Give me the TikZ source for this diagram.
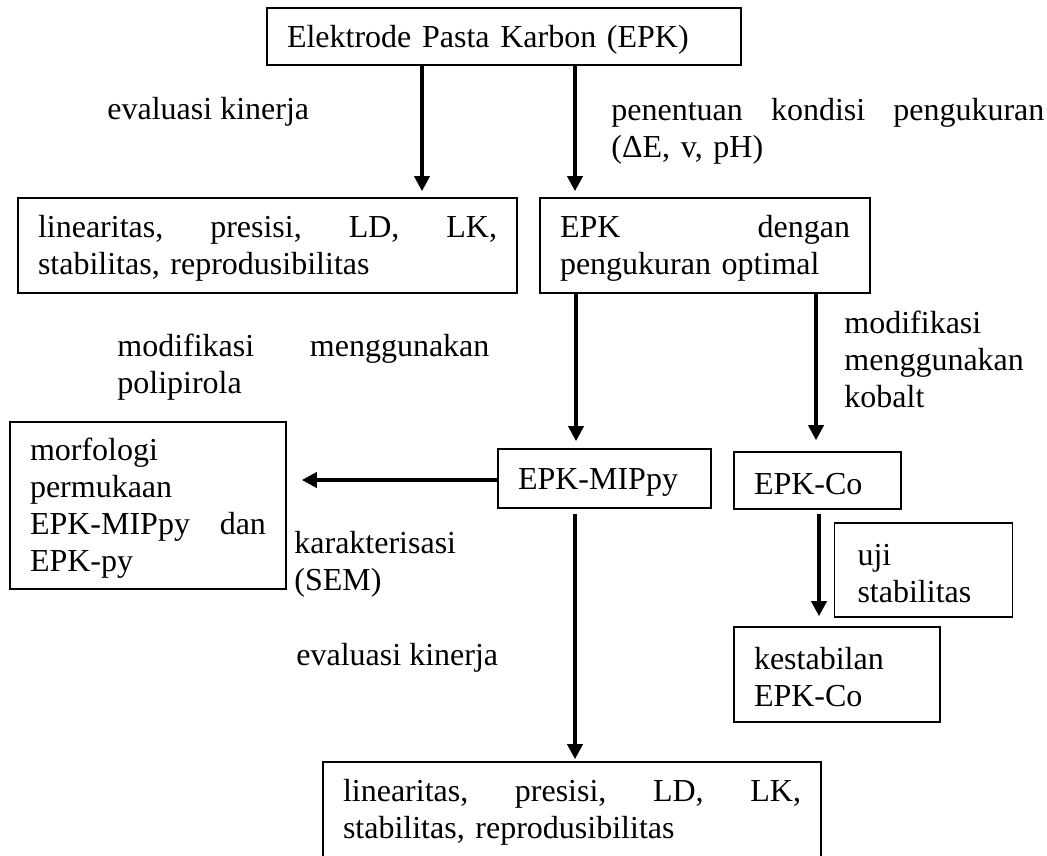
\documentclass[tikz,border=0pt]{standalone}
\usepackage{fontspec}
\setmainfont{Liberation Serif}
\usetikzlibrary{arrows.meta}
\begin{document}
\begin{tikzpicture}[x=0.5pt,y=-0.5pt,
  txt/.style={font=\fontsize{16}{18.5}\selectfont},
  box/.style={txt, draw, line width=0.8pt, align=left, inner xsep=10pt, inner ysep=0pt,
    execute at begin node={\rule{0pt}{14pt}}},
  lbl/.style={txt, inner sep=0pt, align=left, anchor=base west},
  arr/.style={line width=1.8pt, -{Triangle[length=7.5pt,width=7.5pt]}}]
\useasboundingbox[fill=white] (0,0) rectangle (1047,855);
% boxes
\node[box, text width=217pt, minimum height=28.5pt] (top) at (504,36.5) {Elektrode Pasta Karbon (EPK)};
\node[box, text width=229.5pt, minimum height=47.5pt] (lb1) at (267.5,245.5) {linearitas,\hfill presisi,\hfill LD,\hfill LK,\\stabilitas, reprodusibilitas};
\node[box, text width=145pt, minimum height=47.5pt] (rb) at (705,245.5) {EPK\hfill dengan\\pengukuran optimal};
\node[box, text width=118pt, minimum height=83.5pt] (morf) at (148,505.5) {morfologi\\permukaan\\EPK-MIPpy\hfill dan\\EPK-py};
\node[box, text width=86.5pt, minimum height=29.5pt] (mip) at (604.5,478.5) {EPK-MIPpy};
\node[box, text width=63.5pt, minimum height=28.5pt] (co) at (817.5,480.5) {EPK-Co};
\node[box, text width=66pt, minimum height=47pt, inner xsep=11.5pt] (uji) at (923.5,570) {uji\\stabilitas};
\node[box, text width=83pt, minimum height=47.5pt] (kest) at (837,674.5) {kestabilan\\EPK-Co};
\node[box, text width=229pt, minimum height=47.5pt] (bot) at (572,809.5) {linearitas,\hfill presisi,\hfill LD,\hfill LK,\\stabilitas, reprodusibilitas};
% labels
\node[lbl] (ev1) at (107,120) {evaluasi kinerja};
\node[lbl, text width=216.5pt] (pen) at (611,121) {penentuan\hfill kondisi\hfill pengukuran\\(ΔE, v, pH)};
\node[lbl, text width=186pt] (mod1) at (117,356) {modifikasi\hfill menggunakan\\polipirola};
\node[lbl, text width=100pt] (mod2) at (844,333) {modifikasi\\menggunakan\\kobalt};
\node[lbl, text width=90pt] (kar) at (294,553) {karakterisasi\\(SEM)};
\node[lbl] (ev2) at (296,665) {evaluasi kinerja};
% connector anchors
\coordinate (p1) at ([xshift=-41pt]top.south);
\coordinate (p2) at ([xshift=35.5pt]top.south);
\coordinate (p3) at ([xshift=-64.5pt]rb.south);
\coordinate (p4) at ([xshift=55.5pt]rb.south);
\coordinate (p6) at ([xshift=-14.75pt]mip.south);
\coordinate (p7) at ([xshift=0.75pt]co.south);
% connectors
\draw[arr, shorten >=3pt] (p1) -- (p1 |- lb1.north);
\draw[arr, shorten >=3pt] (p2) -- (p2 |- rb.north);
\draw[arr, shorten >=3.5pt] (p3) -- (p3 |- mip.north);
\draw[arr, shorten >=5.5pt] (p4) -- (p4 |- co.north);
\draw[arr, shorten >=7.5pt] ([yshift=-0.75pt]mip.west) -- ([yshift=-0.75pt]mip.west -| morf.east);
\draw[arr, shorten <=2.5pt, shorten >=1pt] (p6) -- (p6 |- bot.north);
\draw[arr, shorten <=2pt, shorten >=5pt] (p7) -- (p7 |- kest.north);
\end{tikzpicture}
\end{document}
